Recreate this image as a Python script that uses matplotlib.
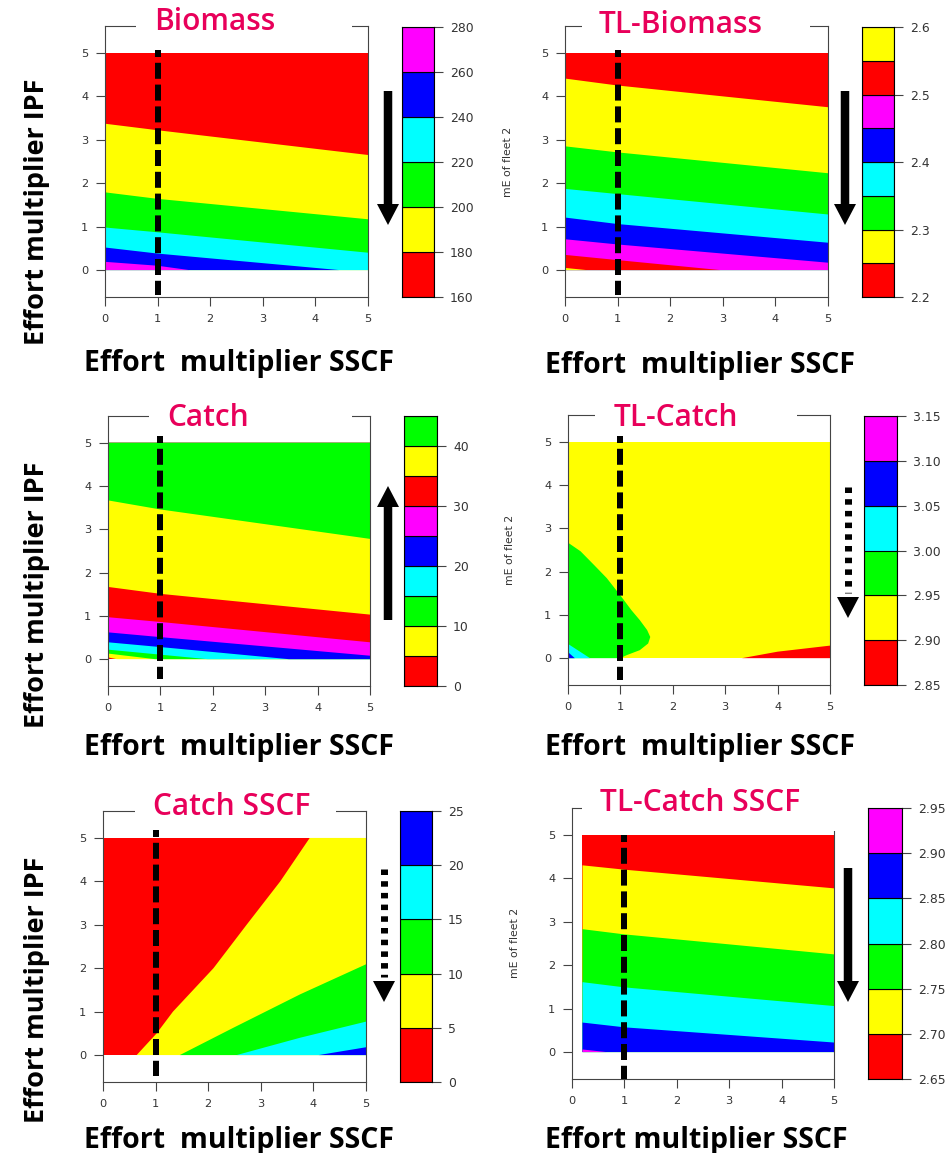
import matplotlib
matplotlib.use("Agg")
import matplotlib.pyplot as plt
from matplotlib.patches import FancyArrow, Polygon, Rectangle

plt.rcParams["lines.scale_dashes"] = False

W, H = 953, 1153
PALETTE = ["#FF0000", "#FFFF00", "#00FF00", "#00FFFF", "#0000FF", "#FF00FF"]
TITLE_COLOR = "#E8005A"
BIG_FONT = ["Open Sans", "DejaVu Sans"]
SMALL_FONT = ["DejaVu Sans"]

# ---------------- data ----------------
# Each contour boundary is a polyline (x = SSCF effort, y = IPF effort);
# the region on its "high" side belongs to the band starting at the listed level.

# Biomass
bio_levels = [160, 180, 200, 220, 240, 260, 280]
bio_ticks = [160, 180, 200, 220, 240, 260, 280]
bio_base = 160
bio_bands = [180, 200, 220, 240, 260]
bio_x = [[0, 1, 5], [0, 1, 5], [0, 1, 5], [0, 1, 4.45, 5], [0, 1, 1.6, 5]]
bio_y = [[3.37, 3.22, 2.65], [1.79, 1.64, 1.17], [0.98, 0.87, 0.40],
         [0.52, 0.38, 0.0, 0.0], [0.19, 0.10, 0.0, 0.0]]

# TL-Biomass
tlb_levels = [2.20, 2.25, 2.30, 2.35, 2.40, 2.45, 2.50, 2.55, 2.60]
tlb_ticks = [2.2, 2.3, 2.4, 2.5, 2.6]
tlb_base = 2.20
tlb_bands = [2.25, 2.30, 2.35, 2.40, 2.45, 2.50, 2.55]
tlb_x = [[0, 1, 5], [0, 1, 5], [0, 1, 5], [0, 1, 5], [0, 1, 5],
         [0, 1, 2.95, 5], [0, 0.41, 5]]
tlb_y = [[4.41, 4.25, 3.75], [2.85, 2.71, 2.23], [1.87, 1.75, 1.28],
         [1.21, 1.06, 0.63], [0.71, 0.59, 0.17], [0.35, 0.23, 0.0, 0.0],
         [0.05, 0.0, 0.0]]

# Catch
cat_levels = [0, 5, 10, 15, 20, 25, 30, 35, 40, 45]
cat_ticks = [0, 10, 20, 30, 40]
cat_base = 0
cat_bands = [5, 10, 15, 20, 25, 30, 35, 40]
cat_x = [[0, 0.17, 5], [0, 0.9, 5], [0, 1.9, 5], [0, 1, 3.45, 5],
         [0, 1, 5], [0, 1, 5], [0, 1, 5], [0, 1, 5]]
cat_y = [[0.04, 0.0, 0.0], [0.13, 0.0, 0.0], [0.22, 0.0, 0.0],
         [0.39, 0.28, 0.0, 0.0], [0.62, 0.51, 0.08], [0.97, 0.86, 0.39],
         [1.67, 1.51, 1.03], [3.67, 3.46, 2.78]]

# TL-Catch
tlc_levels = [2.85, 2.90, 2.95, 3.00, 3.05, 3.10, 3.15]
tlc_ticks = [2.85, 2.90, 2.95, 3.00, 3.05, 3.10, 3.15]
tlc_base = 2.90
tlc_bands = [2.95, 3.00, 3.05, 2.85]
tlc_x = [[0, 0.24, 0.5, 0.74, 1.0, 1.21, 1.37, 1.51, 1.57, 1.53, 1.37, 1.12, 1.0],
         [0, 0.42], [0, 0.13], [3.32, 4.0, 5.0]]
tlc_y = [[2.67, 2.47, 2.15, 1.85, 1.45, 1.11, 0.88, 0.65, 0.49, 0.34, 0.185, 0.07, 0.0],
         [0.33, 0.0], [0.14, 0.0], [0.0, 0.15, 0.29]]

# Catch SSCF
cs_levels = [0, 5, 10, 15, 20, 25]
cs_ticks = [0, 5, 10, 15, 20, 25]
cs_base = 0
cs_bands = [5, 10, 15, 20]
cs_x = [[0.64, 1.02, 1.33, 2.10, 2.73, 3.37, 3.93], [1.46, 2.48, 3.75, 5.0],
        [2.54, 3.75, 5.0], [4.1, 5.0]]
cs_y = [[0.0, 0.5, 1.0, 2.0, 3.0, 4.0, 5.0], [0.0, 0.63, 1.40, 2.09],
        [0.0, 0.40, 0.77], [0.0, 0.18]]

# TL-Catch SSCF (grid starts at SSCF = 0.2)
tcs_xmin = 0.2
tcs_levels = [2.65, 2.70, 2.75, 2.80, 2.85, 2.90, 2.95]
tcs_ticks = [2.65, 2.70, 2.75, 2.80, 2.85, 2.90, 2.95]
tcs_base = 2.65
tcs_bands = [2.70, 2.75, 2.80, 2.85, 2.90]
tcs_x = [[0.2, 1, 5], [0.2, 1, 5], [0.2, 1, 5], [0.2, 1, 5], [0.2, 0.66, 5]]
tcs_y = [[4.30, 4.20, 3.77], [2.83, 2.71, 2.25], [1.61, 1.49, 1.06],
         [0.68, 0.57, 0.22], [0.06, 0.0, 0.0]]

axis_ticks = [0, 1, 2, 3, 4, 5]
status_quo = 1.0

# ---------------- helpers ----------------
BELOW = "below"
ABOVE = "above"
ORIGIN = "origin"
RIGHT = "right"
CORNER = "corner"


def closure(kind, x0):
    return {BELOW: [(5, 0), (x0, 0)], ABOVE: [(5, 5), (x0, 5)],
            ORIGIN: [(0, 0)], RIGHT: [(5, 5), (5, 0)], CORNER: [(5, 0)]}[kind]


def band_color(levels, value):
    idx = min(range(len(levels)), key=lambda i: abs(levels[i] - value))
    return PALETTE[idx % len(PALETTE)]


fig = plt.figure(figsize=(W / 100, H / 100), dpi=100)
fig.patch.set_facecolor("white")

PT = 72 / 100  # points per pixel


def px_axes(l, t, r, b, **kw):
    return fig.add_axes([l / W, 1 - b / H, (r - l) / W, (b - t) / H], **kw)


def draw_panel(box, cbox, levels, ticks, fmt, base, bands, bx, by, closures,
               x0, dash_span):
    ax = px_axes(*box)
    ax.set_xlim(0, 5)
    ax.set_ylim(-0.62, 5.62)
    ax.fill([x0, 5, 5, x0], [0, 0, 5, 5], color=band_color(levels, base),
            lw=0, zorder=1)
    for lev, xs, ys, kind in zip(bands, bx, by, closures):
        cl = closure(kind, x0)
        ax.fill(list(xs) + [c[0] for c in cl], list(ys) + [c[1] for c in cl],
                color=band_color(levels, lev), lw=0, zorder=2)
    # status-quo effort line: 16 px dashes, 6 px gaps
    ax.plot([status_quo, status_quo], [dash_span[0], dash_span[1]],
            color="black", lw=6 * PT,
            linestyle=(9 * PT, (16 * PT, 5.8 * PT)),
            zorder=5, clip_on=False)
    ax.set_xticks(axis_ticks)
    ax.set_yticks(axis_ticks)
    ax.tick_params(direction="out", length=6.5, width=0.8, color="#444444",
                   labelsize=8.2, labelcolor="#333333", pad=5.5)
    for lab in ax.get_xticklabels() + ax.get_yticklabels():
        lab.set_family(SMALL_FONT)
    for sp in ax.spines.values():
        sp.set_color("#444444")
        sp.set_linewidth(0.8)

    cax = px_axes(*cbox)
    n = len(levels) - 1
    cax.bar([0.5] * n, [levels[i + 1] - levels[i] for i in range(n)],
            bottom=levels[:-1], width=1.0,
            color=[PALETTE[i % len(PALETTE)] for i in range(n)],
            edgecolor="black", linewidth=0.8)
    cax.set_xlim(0, 1)
    cax.set_ylim(levels[0], levels[-1])
    cax.set_xticks([])
    cax.yaxis.tick_right()
    cax.set_yticks(ticks)
    cax.set_yticklabels([fmt.format(t) for t in ticks])
    cax.tick_params(axis="y", direction="out", length=6.5, width=0.8,
                    color="#444444", labelsize=8.9, labelcolor="#333333", pad=5)
    for lab in cax.get_yticklabels():
        lab.set_family(SMALL_FONT)
    for sp in cax.spines.values():
        sp.set_color("black")
        sp.set_linewidth(0.8)
    return ax


draw_panel((105, 26, 368, 297), (402, 27, 434, 297), bio_levels, bio_ticks,
           "{:.0f}", bio_base, bio_bands, bio_x, bio_y, [BELOW] * 5, 0.0,
           (5.07, -0.58))
draw_panel((565, 26, 828, 297), (862, 27, 894, 297), tlb_levels, tlb_ticks,
           "{:.1f}", tlb_base, tlb_bands, tlb_x, tlb_y, [BELOW] * 7, 0.0,
           (5.07, -0.58))
draw_panel((108, 416, 370, 686), (404, 416, 437, 686), cat_levels, cat_ticks,
           "{:.0f}", cat_base, cat_bands, cat_x, cat_y, [ABOVE] * 8, 0.0,
           (5.16, -0.46))
draw_panel((568, 415, 830, 685), (864, 416, 897, 685), tlc_levels, tlc_ticks,
           "{:.2f}", tlc_base, tlc_bands, tlc_x, tlc_y,
           [ORIGIN, ORIGIN, ORIGIN, CORNER], 0.0, (5.14, -0.51))
draw_panel((103, 811, 366, 1082), (400, 811, 432, 1082), cs_levels, cs_ticks,
           "{:.0f}", cs_base, cs_bands, cs_x, cs_y, [RIGHT] * 4, 0.0,
           (5.18, -0.48))
draw_panel((572, 808, 834, 1079), (868, 808, 902, 1079), tcs_levels, tcs_ticks,
           "{:.2f}", tcs_base, tcs_bands, tcs_x, tcs_y, [BELOW] * 5, tcs_xmin,
           (5.0, -0.62))

# ---------------- overlay in pixel coordinates ----------------
ov = fig.add_axes([0, 0, 1, 1], zorder=10)
ov.set_xlim(0, W)
ov.set_ylim(H, 0)
ov.axis("off")
ov.patch.set_alpha(0)

# title panels hiding the top frame
for (x1, y1, x2, y2) in [(136, 14, 352, 31), (582, 14, 810, 31),
                         (149, 404, 352, 421), (595, 404, 797, 420),
                         (135, 798, 336, 816), (582, 790, 845, 831)]:
    ov.add_patch(Rectangle((x1, y1), x2 - x1, y2 - y1, color="white", lw=0))

titles = [("Biomass", 215, 30), ("TL-Biomass", 681, 33), ("Catch", 208, 426),
          ("TL-Catch", 676, 426), ("Catch SSCF", 232, 815),
          ("TL-Catch SSCF", 700, 811)]
for txt, x, y in titles:
    ov.text(x, y, txt, ha="center", va="baseline", color=TITLE_COLOR,
            fontsize=21.5, fontweight="semibold", family=BIG_FONT)

for txt, x, y in [("Effort  multiplier SSCF", 239, 371),
                  ("Effort  multiplier SSCF", 700, 373),
                  ("Effort  multiplier SSCF", 239, 755),
                  ("Effort  multiplier SSCF", 700, 755),
                  ("Effort  multiplier SSCF", 239, 1148),
                  ("Effort multiplier SSCF", 696, 1148)]:
    ov.text(x, y, txt, ha="center", va="baseline", color="black",
            fontsize=20.5, fontweight="bold", family=BIG_FONT)

for y in (212, 595, 990):
    ov.text(37, y, "Effort multiplier IPF", ha="center", va="center",
            rotation=90, color="black", fontsize=19.5, fontweight="bold",
            family=BIG_FONT)

for x, y in ((508, 162), (510, 550), (515, 943)):
    ov.text(x, y, "mE of fleet 2", ha="center", va="center", rotation=90,
            color="#333333", fontsize=7.8, family=SMALL_FONT)

# direction arrows: (x, tail, tip, dotted)
arrows = [(388, 91, 225, False), (845, 91, 225, False), (388, 620, 486, False),
          (848, 487, 618, True), (384, 869, 1002, True), (848, 868, 1002, False)]
HEAD_W, HEAD_L, SHAFT_W = 22, 21, 8.5
for x, tail, tip, dotted in arrows:
    sign = 1 if tip > tail else -1
    if not dotted:
        ov.add_patch(FancyArrow(x, tail, 0, tip - tail, width=SHAFT_W,
                                head_width=HEAD_W, head_length=HEAD_L,
                                length_includes_head=True, color="black", lw=0))
    else:
        base_y = tip - sign * HEAD_L
        ov.plot([x, x], [tail, base_y - sign * 4], color="black", lw=7 * PT,
                linestyle=(0, (5.5 * PT, 6.2 * PT)), dash_capstyle="butt")
        ov.add_patch(Polygon([(x - HEAD_W / 2, base_y), (x + HEAD_W / 2, base_y),
                              (x, tip)], closed=True, color="black", lw=0))

fig.savefig("out.png", dpi=100, facecolor="white")
